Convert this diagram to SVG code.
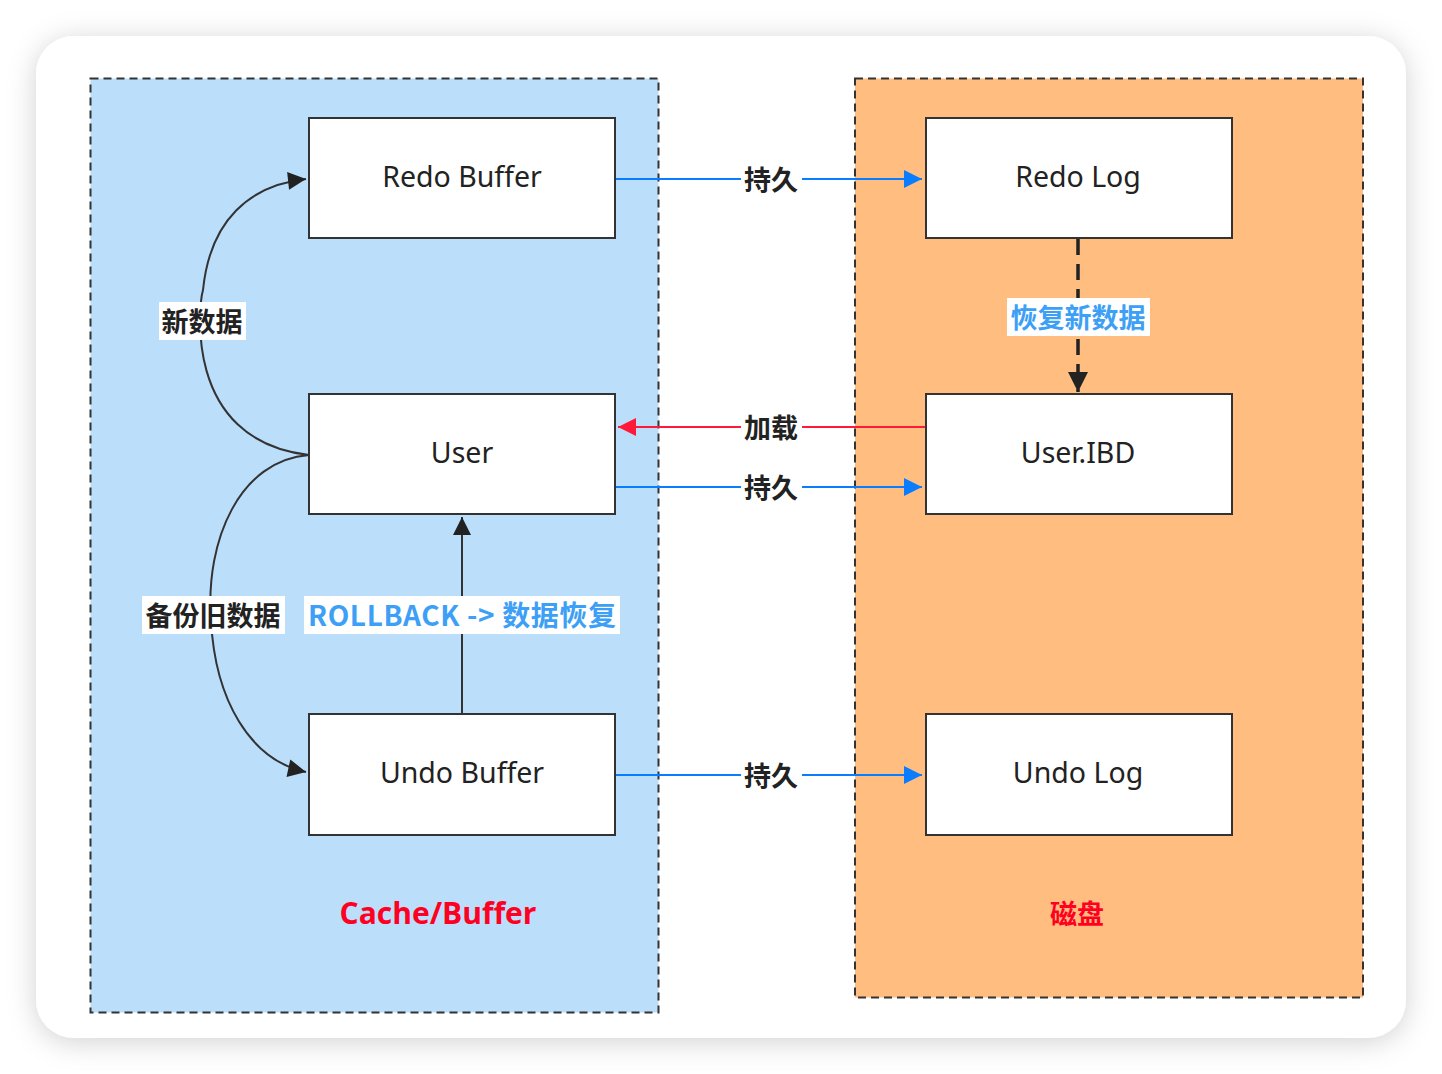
<svg xmlns="http://www.w3.org/2000/svg" width="1442" height="1074" viewBox="0 0 1442 1074">
<style>
.box{fill:#fff;stroke:#333;stroke-width:2}
.bt{font-family:"Noto Sans","Noto Sans CJK SC",sans-serif;font-size:28.5px;fill:#222;text-anchor:middle;dominant-baseline:central}
.lb{font-family:"Noto Sans CJK SC","Noto Sans",sans-serif;font-size:27px;font-weight:bold;fill:#222;text-anchor:middle;dominant-baseline:central}
.blue{fill:#3d9ff5}
.red{fill:#ff0022}
.bg{fill:#fff}
.cb{fill:none;stroke:#0a7cff;stroke-width:2}
.cr{fill:none;stroke:#ff1a3a;stroke-width:2}
.ck{fill:none;stroke:#333;stroke-width:2}
</style>
<defs>
<filter id="sh" x="-10%" y="-10%" width="120%" height="120%">
<feDropShadow dx="0" dy="4" stdDeviation="14" flood-color="#000" flood-opacity="0.18"/>
</filter>
<marker id="ab" viewBox="0 0 10 10" refX="10" refY="5" markerWidth="24" markerHeight="18" markerUnits="userSpaceOnUse" orient="auto"><path d="M0,0 L10,5 L0,10 Z" fill="#0a7cff"/></marker>
<marker id="ar" viewBox="0 0 10 10" refX="10" refY="5" markerWidth="24" markerHeight="18" markerUnits="userSpaceOnUse" orient="auto"><path d="M0,0 L10,5 L0,10 Z" fill="#ff1a3a"/></marker>
<marker id="ak" viewBox="0 0 10 10" refX="10" refY="5" markerWidth="24" markerHeight="18" markerUnits="userSpaceOnUse" orient="auto"><path d="M0,0 L10,5 L0,10 Z" fill="#222"/></marker>
<marker id="ak2" viewBox="0 0 10 10" refX="10" refY="5" markerWidth="28" markerHeight="20" markerUnits="userSpaceOnUse" orient="auto"><path d="M0,0 L10,5 L0,10 Z" fill="#222"/></marker>
</defs>
<rect width="1442" height="1074" fill="#fff"/>
<rect x="36" y="36" width="1370" height="1002" rx="38" fill="#fff" filter="url(#sh)"/>
<g id="panel-cache">
<rect x="90.5" y="78.5" width="568" height="934" fill="#bbdefb" stroke="#333" stroke-width="2" stroke-dasharray="8,5"/>
<text class="lb red" x="438" y="912" style="font-size:30px;font-family:'Open Sans','Noto Sans',sans-serif">Cache/Buffer</text>
</g>
<g id="panel-disk">
<rect x="855" y="78.5" width="508" height="919" fill="#ffbe80" stroke="#333" stroke-width="2" stroke-dasharray="8,5"/>
<text class="lb red" x="1077" y="912">磁盘</text>
</g>
<g id="connectors">
<path class="cb" d="M616,179 H922" marker-end="url(#ab)"/>
<path class="cr" d="M926,427 H618" marker-end="url(#ar)"/>
<path class="cb" d="M616,487 H922" marker-end="url(#ab)"/>
<path class="cb" d="M616,775 H922" marker-end="url(#ab)"/>
<path class="ck" d="M1078,239 V392" style="stroke-width:3.5;stroke-dasharray:16,9;stroke:#222" marker-end="url(#ak2)"/>
<path class="ck" d="M309,455 C 180,440 200,300 203,290 C 210,220 250,185 306,179" marker-end="url(#ak)"/>
<path class="ck" d="M309,455 C 240,460 205,540 211,620 C 215,700 250,760 306,772" marker-end="url(#ak)"/>
<path class="ck" d="M462,714 V517" marker-end="url(#ak)"/>
<rect class="bg" x="741" y="162" width="61" height="34" fill="#fff"/>
<text class="lb" x="771" y="178">持久</text>
<rect class="bg" x="741" y="410" width="61" height="34"/>
<text class="lb" x="771" y="426">加载</text>
<rect class="bg" x="741" y="470" width="61" height="34"/>
<text class="lb" x="771" y="486">持久</text>
<rect class="bg" x="741" y="758" width="61" height="34"/>
<text class="lb" x="771" y="774">持久</text>
<rect class="bg" x="1007" y="298" width="143" height="38"/>
<text class="lb blue" x="1078" y="316">恢复新数据</text>
<rect class="bg" x="159" y="302" width="87" height="38"/>
<text class="lb" x="202" y="320">新数据</text>
<rect class="bg" x="142" y="596" width="143" height="38"/>
<text class="lb" x="213" y="614">备份旧数据</text>
<rect class="bg" x="304" y="596" width="316" height="38"/>
<text class="lb blue" x="462" y="614" style="font-size:28px" textLength="308" lengthAdjust="spacing">ROLLBACK -&gt; 数据恢复</text>
</g>
<g id="redo-buffer"><rect class="box" x="309" y="118" width="306" height="120"/><text class="bt" x="462" y="176">Redo Buffer</text></g>
<g id="user"><rect class="box" x="309" y="394" width="306" height="120"/><text class="bt" x="462" y="452">User</text></g>
<g id="undo-buffer"><rect class="box" x="309" y="714" width="306" height="121"/><text class="bt" x="462" y="772">Undo Buffer</text></g>
<g id="redo-log"><rect class="box" x="926" y="118" width="306" height="120"/><text class="bt" x="1078" y="176">Redo Log</text></g>
<g id="user-ibd"><rect class="box" x="926" y="394" width="306" height="120"/><text class="bt" x="1078" y="452">User.IBD</text></g>
<g id="undo-log"><rect class="box" x="926" y="714" width="306" height="121"/><text class="bt" x="1078" y="772">Undo Log</text></g>
</svg>
